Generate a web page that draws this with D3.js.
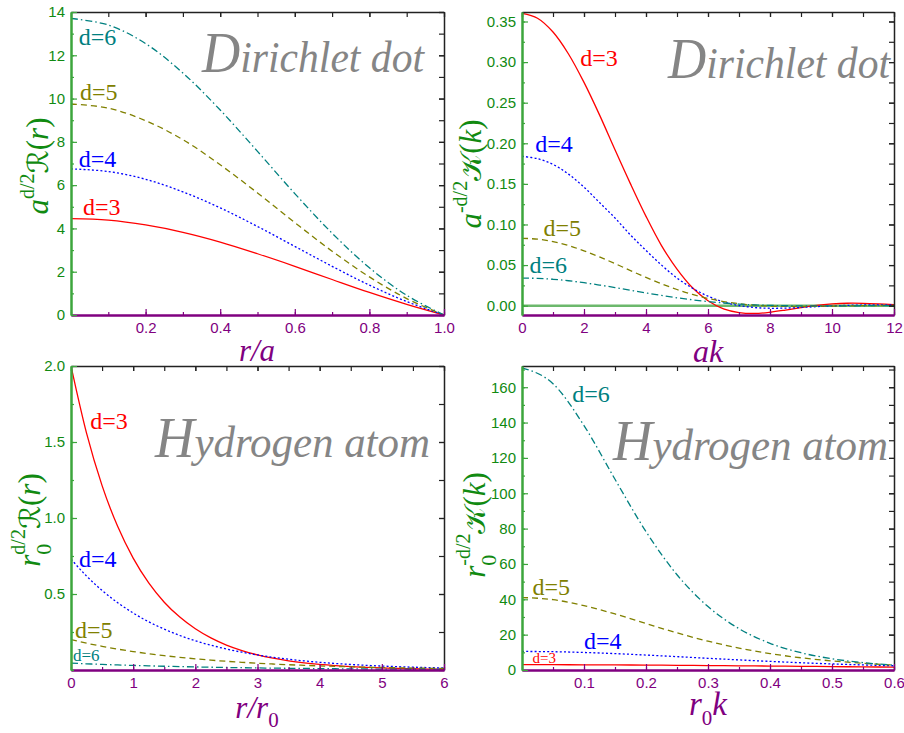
<!DOCTYPE html>
<html>
<head>
<meta charset="utf-8">
<script src="https://cdn.jsdelivr.net/npm/d3@7"></script>
<style>
  body { margin: 0; background: #fff; }
  svg { display: block; }
</style>
</head>
<body>
<svg id="chart" width="904" height="733"></svg>
<script>
// ---- data ----
// Dirichlet dot, position space (x = r/a)
var rDot  = [0, 0.1, 0.2, 0.3, 0.4, 0.5, 0.6, 0.7, 0.8, 0.9, 1.0];
var dotR3 = [4.45, 4.38, 4.16, 3.82, 3.37, 2.83, 2.25, 1.64, 1.04, 0.49, 0];
var dotR4 = [6.75, 6.63, 6.27, 5.69, 4.95, 4.09, 3.17, 2.25, 1.38, 0.62, 0];
var dotR5 = [9.75, 9.56, 8.98, 8.10, 6.94, 5.64, 4.27, 2.95, 1.76, 0.76, 0];
var dotR6 = [13.7, 13.40, 12.54, 11.18, 9.47, 7.56, 5.61, 3.78, 2.18, 0.91, 0];

// Dirichlet dot, momentum space (x = ak)
var akDot = [0, 0.5, 1, 1.5, 2, 2.5, 3, 3.5, 4, 4.5, 5, 5.5, 6, 6.5, 7, 7.5, 8, 8.5, 9, 9.5, 10, 10.5, 11, 11.5, 12];
var dotK3 = [0.360, 0.354, 0.337, 0.310, 0.275, 0.235, 0.192, 0.150, 0.110, 0.074, 0.045, 0.022, 0.006, -0.004, -0.0085, -0.0096, -0.0081, -0.0054, -0.0023, 0.0004, 0.0021, 0.0030, 0.0029, 0.0022, 0.0012];
var dotK4 = [0.184, 0.181, 0.174, 0.162, 0.146, 0.127, 0.108, 0.087, 0.068, 0.050, 0.034, 0.0215, 0.0117, 0.0046, 0.0001, -0.0023, -0.0032, -0.0030, -0.0022, -0.0012, -0.0003, 0.0004, 0.0008, 0.0009, 0.0008];
var dotK5 = [0.083, 0.0819, 0.0789, 0.0740, 0.0676, 0.0600, 0.0518, 0.0432, 0.0348, 0.0269, 0.0199, 0.0138, 0.0089, 0.0051, 0.0024, 0.0005, -0.0005, -0.0009, -0.0010, -0.0008, -0.0005, -0.0002, 0.0000, 0.0002, 0.0003];
var dotK6 = [0.034, 0.0336, 0.0325, 0.0307, 0.0283, 0.0254, 0.0223, 0.0190, 0.0157, 0.0126, 0.0097, 0.0072, 0.0050, 0.0033, 0.0020, 0.0010, 0.0003, -0.0001, -0.0002, -0.0003, -0.0002, -0.0002, -0.0001, 0.0000, 0.0000];

// Hydrogen atom, position space (x = r/r0)
var rHyd  = [0, 0.25, 0.5, 0.75, 1, 1.25, 1.5, 1.75, 2, 2.25, 2.5, 2.75, 3, 3.25, 3.5, 3.75, 4, 4.25, 4.5, 4.75, 5, 5.25, 5.5, 5.75, 6];
var hydR3 = [2.0, 1.558, 1.213, 0.945, 0.736, 0.573, 0.446, 0.348, 0.271, 0.211, 0.164, 0.128, 0.0996, 0.0776, 0.0604, 0.0470, 0.0366, 0.0285, 0.0222, 0.0173, 0.0135, 0.0105, 0.0082, 0.0064, 0.0050];
var hydR4 = [0.73, 0.618, 0.523, 0.443, 0.375, 0.317, 0.269, 0.227, 0.192, 0.163, 0.138, 0.117, 0.0988, 0.0836, 0.0708, 0.0599, 0.0507, 0.0429, 0.0363, 0.0308, 0.0260, 0.0220, 0.0187, 0.0158, 0.0134];
var hydR5 = [0.20, 0.1765, 0.1558, 0.1375, 0.1213, 0.1071, 0.0945, 0.0834, 0.0736, 0.0649, 0.0573, 0.0506, 0.0446, 0.0394, 0.0348, 0.0307, 0.0271, 0.0239, 0.0211, 0.0186, 0.0164, 0.0145, 0.0128, 0.0113, 0.0100];
var hydR6 = [0.045, 0.0407, 0.0368, 0.0333, 0.0302, 0.0273, 0.0247, 0.0224, 0.0202, 0.0183, 0.0166, 0.0150, 0.0136, 0.0123, 0.0111, 0.0101, 0.0091, 0.0082, 0.0074, 0.0067, 0.0061, 0.0055, 0.0050, 0.0045, 0.0041];

// Hydrogen atom, momentum space (x = r0 k)
var kHyd  = [0, 0.05, 0.1, 0.15, 0.2, 0.25, 0.3, 0.35, 0.4, 0.45, 0.5, 0.55, 0.6];
var hydK3 = [3.0, 2.985, 2.94, 2.87, 2.77, 2.66, 2.53, 2.38, 2.23, 2.07, 1.92, 1.77, 1.62];
var hydK4 = [10.5, 10.35, 9.93, 9.28, 8.46, 7.56, 6.62, 5.71, 4.87, 4.11, 3.44, 2.87, 2.38];
var hydK5 = [41, 39.8, 36.4, 31.7, 26.3, 21.0, 16.3, 12.4, 9.30, 6.91, 5.13, 3.80, 2.82];
var hydK6 = [171, 162.0, 138.3, 107.9, 78.3, 53.9, 35.9, 23.4, 15.1, 9.77, 6.35, 4.16, 2.76];

var dims = [3, 4, 5, 6];

// tick values
var dotRxTicks = [0.2, 0.4, 0.6, 0.8, 1.0];
var dotRyTicks = [0, 2, 4, 6, 8, 10, 12, 14];
var dotKxTicks = [0, 2, 4, 6, 8, 10, 12];
var dotKyTicks = [0, 0.05, 0.10, 0.15, 0.20, 0.25, 0.30, 0.35];
var hydRxTicks = [0, 1, 2, 3, 4, 5, 6];
var hydRyTicks = [0.5, 1.0, 1.5, 2.0];
var hydKxTicks = [0.1, 0.2, 0.3, 0.4, 0.5, 0.6];
var hydKyTicks = [0, 20, 40, 60, 80, 100, 120, 140, 160];

// curve label anchors, in data units [x, y]
var dotRLabels = [[0.032, 4.62], [0.021, 6.84], [0.024, 9.93], [0.021, 12.47]];
var dotKLabels = [[1.88, 0.2952], [0.43, 0.1893], [0.69, 0.0858], [0.24, 0.0403]];
var hydRLabels = [[0.31, 1.586], [0.13, 0.678], [0.064, 0.211], [0.032, 0.059]];
var hydKLabels = [[0.017, 4.1], [0.100, 12.1], [0.017, 42.7], [0.081, 151.7]];

var colors = {3: "#ff0000", 4: "#0000ff", 5: "#808000", 6: "#008080"};
var dashes = {3: null, 4: "2,2.2", 5: "6,4", 6: "7,3,1.5,3"};
var green = "#118a11", purple = "#800080";

var svg = d3.select("#chart");

var panels = [
  { id: 1, left: 71, top: 12, right: 444, bottom: 315,
    x: rDot, series: [dotR3, dotR4, dotR5, dotR6], labels: dotRLabels,
    xDom: [0, 1], yDom: [0, 14], xTicks: dotRxTicks, yTicks: dotRyTicks,
    xMinor: d3.range(0, 1.0001, 0.1), yMinor: d3.range(0, 14.001, 1),
    xFmt: d3.format(".1f"), yFmt: d3.format("d"), curve: d3.curveCatmullRom,
    labelSize: [24, 24, 24, 24],
    title: "Dirichlet dot", tx: 131, ty: 60, tw: 222 },
  { id: 2, left: 522, top: 12, right: 894, bottom: 315,
    x: akDot, series: [dotK3, dotK4, dotK5, dotK6], labels: dotKLabels,
    xDom: [0, 12], yDom: [-0.0115, 0.3617], xTicks: dotKxTicks, yTicks: dotKyTicks,
    xMinor: d3.range(0, 12.001, 1), yMinor: d3.range(0, 0.3501, 0.025),
    xFmt: d3.format("d"), yFmt: d3.format(".2f"), curve: d3.curveCatmullRom,
    labelSize: [24, 24, 24, 24], zero: true,
    title: "Dirichlet dot", tx: 146, ty: 66, tw: 222 },
  { id: 3, left: 71, top: 366, right: 444, bottom: 670,
    x: rHyd, series: [hydR3, hydR4, hydR5, hydR6], labels: hydRLabels,
    xDom: [0, 6], yDom: [0, 2], xTicks: hydRxTicks, yTicks: hydRyTicks,
    xMinor: d3.range(0, 6.001, 0.5), yMinor: d3.range(0, 2.001, 0.25),
    xFmt: d3.format("d"), yFmt: d3.format(".1f"), curve: d3.curveMonotoneX,
    labelSize: [24, 24, 24, 17],
    title: "Hydrogen atom", tx: 84, ty: 91, tw: 275 },
  { id: 4, left: 522, top: 366, right: 894, bottom: 670,
    x: kHyd, series: [hydK3, hydK4, hydK5, hydK6], labels: hydKLabels,
    xDom: [0, 0.6], yDom: [0, 172], xTicks: hydKxTicks, yTicks: hydKyTicks,
    xMinor: d3.range(0, 0.6001, 0.05), yMinor: d3.range(0, 170.01, 10),
    xFmt: d3.format(".1f"), yFmt: d3.format("d"), curve: d3.curveMonotoneX,
    labelSize: [15, 24, 24, 24],
    title: "Hydrogen atom", tx: 91, ty: 94, tw: 275 }
];

function styleAxis(sel, color, width, showText) {
  sel.select(".domain").attr("stroke", color).attr("stroke-width", width);
  sel.selectAll(".tick line").attr("stroke", color).attr("stroke-width", 1.2);
  sel.selectAll(".tick text").attr("fill", color)
     .attr("font-family", "Liberation Sans, Arial, sans-serif").attr("font-size", 15);
  if (!showText) sel.selectAll(".tick text").remove();
}

function drawPanel(p) {
  var x = d3.scaleLinear().domain(p.xDom).range([p.left, p.right]);
  var y = d3.scaleLinear().domain(p.yDom).range([p.bottom, p.top]);
  var g = svg.append("g");

  svg.append("clipPath").attr("id", "clip" + p.id)
    .append("rect").attr("x", p.left).attr("y", p.top)
    .attr("width", p.right - p.left).attr("height", p.bottom - p.top);

  // title in the corner
  var t = g.append("text")
    .attr("x", p.left + p.tx).attr("y", p.top + p.ty)
    .attr("font-family", "Liberation Serif, serif").attr("font-style", "italic")
    .attr("font-size", 44).attr("fill", "#858585")
    .attr("textLength", p.tw).attr("lengthAdjust", "spacingAndGlyphs");
  t.append("tspan").attr("font-size", 56).text(p.title.charAt(0));
  t.append("tspan").text(p.title.slice(1));

  if (p.zero) {
    g.append("line").attr("x1", p.left).attr("x2", p.right)
      .attr("y1", y(0)).attr("y2", y(0))
      .attr("stroke", "#6cb86c").attr("stroke-width", 2.5);
  }

  var line = d3.line().curve(p.curve)
    .x(function(d, i) { return x(p.x[i]); })
    .y(function(d) { return y(d); });

  p.series.forEach(function(s, i) {
    var d = dims[i];
    g.append("path").datum(s)
      .attr("clip-path", "url(#clip" + p.id + ")")
      .attr("fill", "none").attr("stroke", colors[d]).attr("stroke-width", 1.3)
      .attr("stroke-dasharray", dashes[d])
      .attr("d", line);
  });

  p.labels.forEach(function(l, i) {
    var d = dims[i];
    g.append("text").attr("x", x(l[0])).attr("y", y(l[1]))
      .attr("font-family", "Liberation Serif, serif").attr("font-size", p.labelSize[i])
      .attr("fill", colors[d]).text("d=" + d);
  });

  // frame: top and right (black), then minor and major ticks
  var top = g.append("g").attr("transform", "translate(0," + p.top + ")")
    .call(d3.axisTop(x).tickValues(p.xTicks.concat(p.xMinor)).tickSizeInner(-5).tickSizeOuter(0).tickFormat(""));
  styleAxis(top, "#222", 1.5, false);
  var right = g.append("g").attr("transform", "translate(" + p.right + ",0)")
    .call(d3.axisRight(y).tickValues(p.yTicks.concat(p.yMinor)).tickSizeInner(-5).tickSizeOuter(0).tickFormat(""));
  styleAxis(right, "#222", 1.5, false);

  var bMinor = g.append("g").attr("transform", "translate(0," + p.bottom + ")")
    .call(d3.axisBottom(x).tickValues(p.xMinor).tickSizeInner(-3).tickSizeOuter(0).tickFormat(""));
  styleAxis(bMinor, purple, 2, false);
  var bottom = g.append("g").attr("transform", "translate(0," + p.bottom + ")")
    .call(d3.axisBottom(x).tickValues(p.xTicks).tickSizeInner(-6).tickSizeOuter(0).tickPadding(7).tickFormat(p.xFmt));
  styleAxis(bottom, purple, 2, true);

  var lMinor = g.append("g").attr("transform", "translate(" + p.left + ",0)")
    .call(d3.axisLeft(y).tickValues(p.yMinor).tickSizeInner(-3).tickSizeOuter(0).tickFormat(""));
  styleAxis(lMinor, "#3da53d", 2, false);
  var left = g.append("g").attr("transform", "translate(" + p.left + ",0)")
    .call(d3.axisLeft(y).tickValues(p.yTicks).tickSizeInner(-6).tickSizeOuter(0).tickPadding(6).tickFormat(p.yFmt));
  styleAxis(left, "#3da53d", 2, true);
  left.selectAll(".tick text").attr("fill", green);
}

panels.forEach(drawPanel);

// ---- axis titles built from pieces (italic letters, super/subscripts) ----
function mathLabel(parts, cx, cy, color, rotate) {
  var outer = svg.append("g")
    .attr("transform", "translate(" + cx + "," + cy + ")" + (rotate ? " rotate(-90)" : ""));
  var inner = outer.append("g");
  var xpos = 0, prev = 0;
  parts.forEach(function(p) {
    var px = p.stack ? prev : xpos;
    var t = inner.append("text").attr("x", px).attr("y", p.dy || 0)
      .attr("font-family", p.font || "Liberation Serif, DejaVu Serif, serif")
      .attr("font-size", p.size).attr("font-style", p.it ? "italic" : "normal")
      .attr("fill", color).text(p.t);
    var w = t.node().getComputedTextLength();
    prev = px;
    xpos = Math.max(xpos, px + w);
  });
  inner.attr("transform", "translate(" + (-xpos / 2) + ",0)");
}

var scriptFont = "DejaVu Serif, DejaVu Sans, serif";

mathLabel([{t: "r", it: true, size: 31}, {t: "/", it: true, size: 31}, {t: "a", it: true, size: 31}],
  257, 361, purple, false);
mathLabel([{t: "a", it: true, size: 32}, {t: "k", it: true, size: 32}],
  708, 362, purple, false);
mathLabel([{t: "r", it: true, size: 31}, {t: "/", it: true, size: 31}, {t: "r", it: true, size: 31},
  {t: "0", size: 21, dy: 9}], 257, 718, purple, false);
mathLabel([{t: "r", it: true, size: 33}, {t: "0", size: 21, dy: 10}, {t: "k", it: true, size: 33}],
  708, 715, purple, false);

mathLabel([{t: "a", it: true, size: 31}, {t: "d/2", size: 20, dy: -14},
  {t: "\u211B", size: 29, font: scriptFont}, {t: "(", size: 31}, {t: "r", it: true, size: 31}, {t: ")", size: 31}],
  48, 166, green, true);
mathLabel([{t: "a", it: true, size: 31}, {t: "-d/2", size: 20, dy: -14},
  {t: "\uD835\uDCA6", size: 29, font: scriptFont}, {t: "(", size: 31}, {t: "k", it: true, size: 31}, {t: ")", size: 31}],
  481, 174, green, true);
mathLabel([{t: "r", it: true, size: 31}, {t: "0", size: 22, dy: 11}, {t: "d/2", size: 20, dy: -15, stack: true},
  {t: "\u211B", size: 29, font: scriptFont}, {t: "(", size: 31}, {t: "r", it: true, size: 31}, {t: ")", size: 31}],
  40, 520, green, true);
mathLabel([{t: "r", it: true, size: 31}, {t: "0", size: 22, dy: 11}, {t: "-d/2", size: 20, dy: -15, stack: true},
  {t: "\uD835\uDCA6", size: 29, font: scriptFont}, {t: "(", size: 31}, {t: "k", it: true, size: 31}, {t: ")", size: 31}],
  485, 525, green, true);
</script>
</body>
</html>
